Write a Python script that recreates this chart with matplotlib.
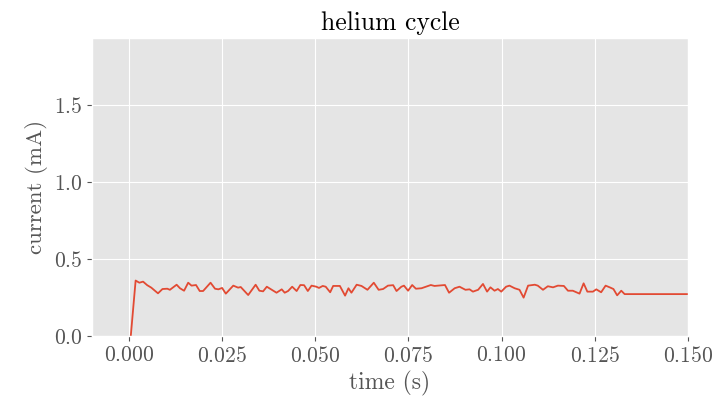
import matplotlib
matplotlib.use("Agg")
import matplotlib.pyplot as plt

plt.style.use("ggplot")
plt.rcParams["font.family"] = "cmr10"
plt.rcParams["mathtext.fontset"] = "cm"
plt.rcParams["axes.formatter.use_mathtext"] = True

time_s = [0.0005, 0.0018, 0.0028, 0.0038, 0.0049, 0.006, 0.0078, 0.009, 0.0103, 0.011,
          0.0128, 0.0137, 0.0148, 0.0159, 0.0168, 0.018, 0.019, 0.0199, 0.0219, 0.0231,
          0.024, 0.025, 0.026, 0.028, 0.0293, 0.030, 0.032, 0.034, 0.035, 0.036,
          0.037, 0.038, 0.0396, 0.041, 0.0418, 0.0427, 0.0438, 0.045, 0.046, 0.047,
          0.048, 0.049, 0.0503, 0.051, 0.052, 0.0528, 0.054, 0.0548, 0.0566, 0.058,
          0.0589, 0.0597, 0.0611, 0.0624, 0.064, 0.0657, 0.067, 0.0682, 0.0695, 0.0709,
          0.0718, 0.0731, 0.0738, 0.0749, 0.076, 0.077, 0.0785, 0.081, 0.082, 0.0848,
          0.0859, 0.0874, 0.0887, 0.0903, 0.0914, 0.0923, 0.0937, 0.095, 0.0961, 0.097,
          0.0981, 0.099, 0.0999, 0.1012, 0.1021, 0.1035, 0.1048, 0.1059, 0.1071, 0.1089,
          0.1097, 0.1111, 0.1124, 0.1138, 0.1151, 0.1167, 0.1178, 0.1191, 0.1209, 0.122,
          0.123, 0.1245, 0.1254, 0.1267, 0.1279, 0.129, 0.130, 0.131, 0.1321, 0.133,
          0.150]
current_mA = [0.0, 0.36, 0.346, 0.353, 0.33, 0.314, 0.277, 0.305, 0.307, 0.30,
              0.333, 0.31, 0.294, 0.346, 0.327, 0.331, 0.292, 0.292, 0.346, 0.307,
              0.303, 0.312, 0.275, 0.327, 0.314, 0.318, 0.266, 0.333, 0.294, 0.29,
              0.32, 0.305, 0.281, 0.303, 0.281, 0.292, 0.32, 0.292, 0.331, 0.33,
              0.292, 0.327, 0.32, 0.312, 0.325, 0.32, 0.284, 0.325, 0.325, 0.262,
              0.31, 0.281, 0.333, 0.325, 0.30, 0.346, 0.30, 0.305, 0.327, 0.33,
              0.292, 0.32, 0.327, 0.294, 0.331, 0.307, 0.31, 0.331, 0.325, 0.331,
              0.281, 0.31, 0.32, 0.30, 0.303, 0.288, 0.30, 0.338, 0.288, 0.316,
              0.294, 0.305, 0.288, 0.32, 0.327, 0.31, 0.30, 0.249, 0.327, 0.333,
              0.327, 0.30, 0.323, 0.316, 0.327, 0.325, 0.294, 0.294, 0.275, 0.342,
              0.288, 0.288, 0.303, 0.284, 0.327, 0.316, 0.305, 0.264, 0.294, 0.272,
              0.272]

fig = plt.figure(figsize=(7.15, 3.98), dpi=100)
ax = fig.add_axes([0.1287, 0.1558, 0.8335, 0.7487])
ax.plot(time_s, current_mA, color="#E24A33", lw=1.3)
ax.set_xlim(-0.0099, 0.150)
ax.set_ylim(0, 1.935)
ax.set_xticks([0.0, 0.025, 0.05, 0.075, 0.1, 0.125, 0.15])
ax.set_yticks([0.0, 0.5, 1.0, 1.5])
ax.xaxis.set_major_formatter(matplotlib.ticker.FuncFormatter(lambda v, p: r"$\mathdefault{%.3f}$" % v))
ax.yaxis.set_major_formatter(matplotlib.ticker.FuncFormatter(lambda v, p: r"$\mathdefault{%.1f}$" % v))
ax.tick_params(labelsize=15.5, colors="#555555")
ax.set_xlabel("time (s)", fontsize=17, color="#555555")
ax.set_ylabel("current (mA)", fontsize=16.5, color="#555555")
ax.set_title("helium cycle", fontsize=18.5, color="black")
fig.savefig("out.png", dpi=100)
